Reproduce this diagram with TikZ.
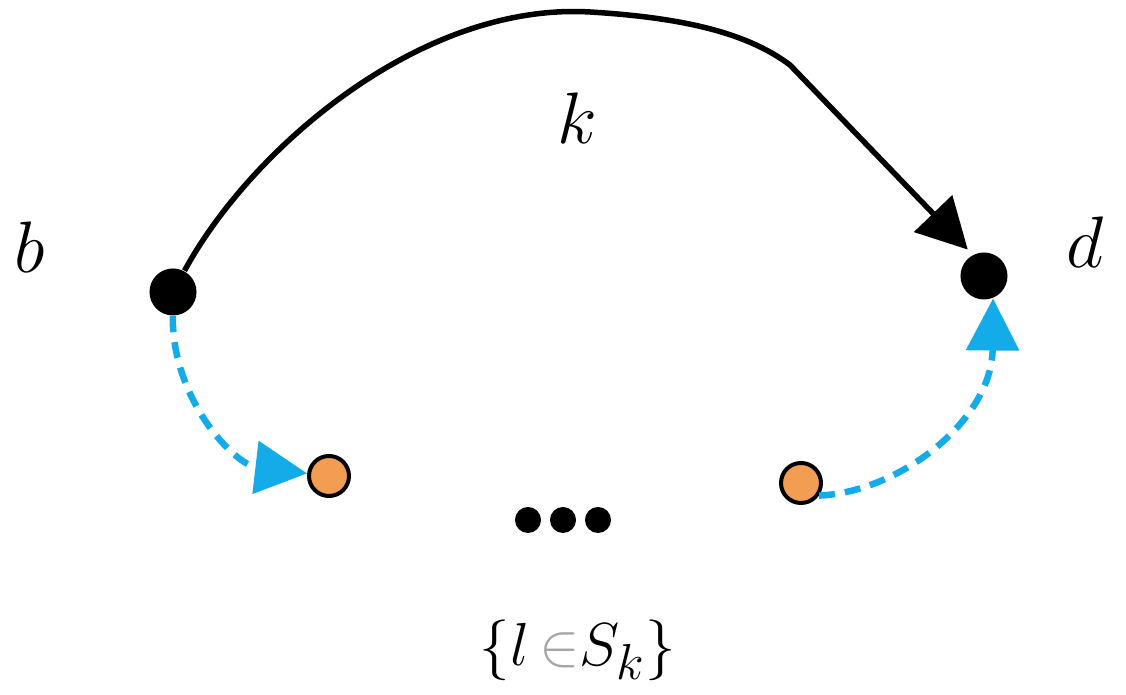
\documentclass[tikz,border=0pt]{standalone}
\usepackage{xcolor}
\usepackage{tikz}
\usetikzlibrary{arrows.meta}
\definecolor{flowblue}{RGB}{20,172,232}
\definecolor{relayorange}{RGB}{242,157,82}

\begin{document}
\begin{tikzpicture}[x=0.01cm, y=-0.01cm,
  font=\fontsize{21}{24}\selectfont,
  endpt/.style={circle, fill=black, inner sep=0pt, minimum size=0.47cm},
  relay/.style={circle, draw=black, fill=relayorange, line width=0.04cm, inner sep=0pt, minimum size=0.40cm},
  ell/.style={circle, fill=black, inner sep=0pt, minimum size=0.26cm},
  route/.style={line width=0.055cm, -{Triangle[length=0.5cm, width=0.52cm]}},
  hop/.style={line width=0.065cm, color=flowblue, dash pattern=on 0.16cm off 0.10cm,
              -{Triangle[length=0.52cm, width=0.52cm]}}]
  \useasboundingbox (0,0) rectangle (1126,695);
  \node[endpt] (b) at (173,292) {};
  \node[endpt] (d) at (984,276) {};
  \node[relay] (l1) at (329,476) {};
  \node[relay] (l2) at (801,483) {};
  \foreach \i/\x in {1/528, 2/563, 3/598}
    \node[ell] (dot\i) at (\x,520) {};
  \node (blabel) at (30,247) {$b$};
  \node (dlabel) at (1085,242) {$d$};
  \node (klabel) at (577,118) {$k$};
  \node[font=\fontsize{19}{22}\selectfont] (setlabel) at (578,650) {$\{l\,{\color{black!35}\in}S_k\}$};
  % direct route b -> d
  \draw[route, shorten >=0.07cm] (b) .. controls (250,150) and (420,2) .. (590,12)
    .. controls (690,18) and (750,35) .. (790,65) -- (d.118);
  % relay hops
  \draw[hop] (b) .. controls (172,400) and (235,465) .. (l1);
  \draw[hop] (l2.-35) .. controls (900,492) and (992,420) .. (d.-68);
\end{tikzpicture}
\end{document}
